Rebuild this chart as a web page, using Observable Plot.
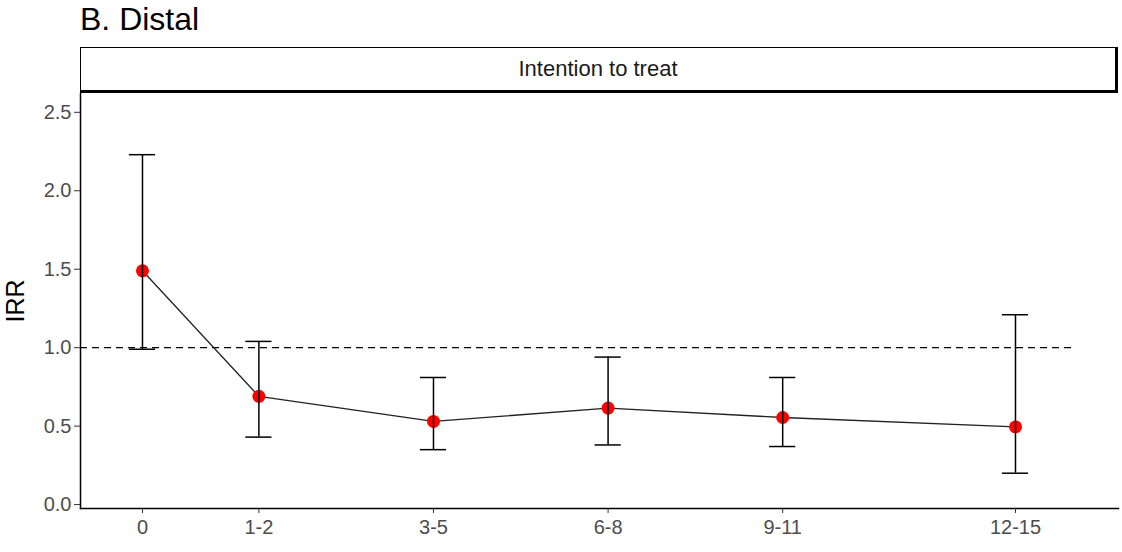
<!DOCTYPE html>
<html><head><meta charset="utf-8">
<script src="https://cdn.jsdelivr.net/npm/d3@7"></script>
<script src="https://cdn.jsdelivr.net/npm/@observablehq/plot@0.6"></script>
<style>
body{margin:0;background:#fff;font-family:"Liberation Sans",Arial,sans-serif;}
#title{height:47px;box-sizing:border-box;padding-left:80px;padding-top:1px;font-size:32px;color:#000;line-height:36px;}
#strip{margin-left:80px;width:1038px;height:46px;box-sizing:border-box;border:1.5px solid #000;border-bottom:3px solid #000;border-right:3px solid #000;display:flex;align-items:center;justify-content:center;font-size:22px;color:#1a1a1a;}
</style></head>
<body>
<div id="title">B. Distal</div>
<div id="strip">Intention to treat</div>
<div id="chart"></div>
<script>
const categories = ["0","1-2","3-5","6-8","9-11","12-15"];
const positions = [0, 2, 5, 8, 11, 15];
const irr = [1.49, 0.69, 0.53, 0.615, 0.555, 0.495];
const lower = [0.99, 0.43, 0.35, 0.38, 0.37, 0.20];
const upper = [2.23, 1.04, 0.81, 0.94, 0.81, 1.21];
const yTicks = [0, 0.5, 1, 1.5, 2, 2.5];
const refLine = 1;

const data = categories.map((c,i)=>({cat:c, x:positions[i], y:irr[i], lo:lower[i], hi:upper[i]}));
const capHalf = 0.225;
const xDomain = [-1.065, 16.77];

const chart = Plot.plot({
  width: 1122, height: 459,
  marginTop: 0, marginLeft: 80, marginRight: 4, marginBottom: 44,
  style: {fontFamily: '"Liberation Sans", Arial, sans-serif', fontSize: "20px", background: "#fff"},
  x: {domain: xDomain},
  y: {domain: [-0.025, 2.62]},
  marks: [
    Plot.ruleY([refLine], {x1: xDomain[0], x2: 16, stroke: "#000", strokeWidth: 1.3, strokeDasharray: "7,5"}),
    Plot.line(data, {x: "x", y: "y", stroke: "#222", strokeWidth: 1.3}),
    Plot.dot(data, {x: "x", y: "y", r: 6.5, fill: "#ff0000", stroke: "none"}),
    Plot.ruleX(data, {x: "x", y1: "lo", y2: "hi", stroke: "#000", strokeWidth: 1.5}),
    Plot.ruleY(data, {y: "hi", x1: d => d.x - capHalf, x2: d => d.x + capHalf, stroke: "#000", strokeWidth: 1.5}),
    Plot.ruleY(data, {y: "lo", x1: d => d.x - capHalf, x2: d => d.x + capHalf, stroke: "#000", strokeWidth: 1.5}),
    Plot.frame({anchor: "left", stroke: "#000", strokeWidth: 1.5}),
    Plot.frame({anchor: "bottom", stroke: "#000", strokeWidth: 1.5}),
    Plot.axisY({ticks: yTicks, tickFormat: d3.format(".1f"), tickSize: 6, tickPadding: 3, fontSize: 20, fill: "#4d4d4d", stroke: "#333",
      label: "IRR", labelAnchor: "center", labelArrow: "none", labelOffset: 74}),
    Plot.axisX({ticks: positions, tickFormat: d => categories[positions.indexOf(d)], tickSize: 5, tickPadding: 6, fontSize: 20, fill: "#4d4d4d", stroke: "#333", label: null})
  ]
});
document.getElementById("chart").appendChild(chart);
const lbl = [...chart.querySelectorAll("text")].find(t => t.textContent === "IRR");
if (lbl) { lbl.style.fontSize = "25px"; lbl.setAttribute("fill", "#000"); }
</script>
</body></html>
